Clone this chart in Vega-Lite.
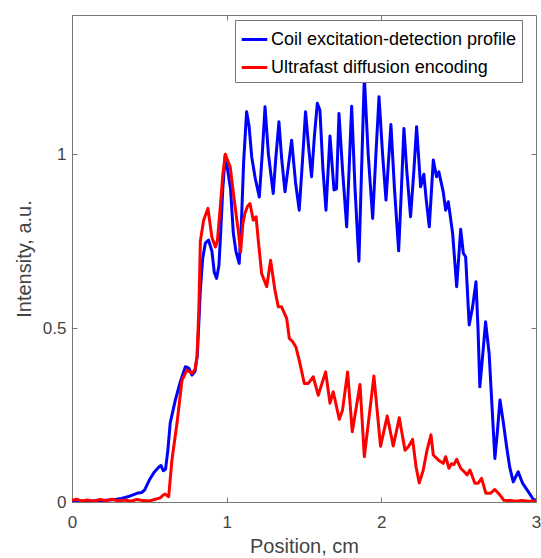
{
  "$schema": "https://vega.github.io/schema/vega-lite/v6.json",
  "width": 464,
  "height": 487,
  "autosize": "none",
  "padding": {"left": 72, "top": 15, "right": 5, "bottom": 56},
  "background": "white",
  "config": {
    "font": "Liberation Sans",
    "view": {"stroke": "#777", "strokeWidth": 1},
    "axis": {
      "grid": false,
      "domainColor": "#777",
      "tickColor": "#777",
      "labelColor": "#444",
      "titleColor": "#444",
      "labelFont": "Liberation Sans",
      "titleFont": "Liberation Sans",
      "labelFontSize": 17,
      "titleFontSize": 20,
      "titleFontWeight": "normal",
      "labelFlush": false,
      "tickSize": -5
    }
  },
  "datasets": {
    "curves": [
      {"pos": 0.00, "val": 0.002, "series": "Coil excitation-detection profile"},
      {"pos": 0.10, "val": 0.002, "series": "Coil excitation-detection profile"},
      {"pos": 0.20, "val": 0.004, "series": "Coil excitation-detection profile"},
      {"pos": 0.28, "val": 0.007, "series": "Coil excitation-detection profile"},
      {"pos": 0.32, "val": 0.010, "series": "Coil excitation-detection profile"},
      {"pos": 0.36, "val": 0.015, "series": "Coil excitation-detection profile"},
      {"pos": 0.39, "val": 0.020, "series": "Coil excitation-detection profile"},
      {"pos": 0.42, "val": 0.025, "series": "Coil excitation-detection profile"},
      {"pos": 0.45, "val": 0.027, "series": "Coil excitation-detection profile"},
      {"pos": 0.47, "val": 0.035, "series": "Coil excitation-detection profile"},
      {"pos": 0.50, "val": 0.063, "series": "Coil excitation-detection profile"},
      {"pos": 0.53, "val": 0.085, "series": "Coil excitation-detection profile"},
      {"pos": 0.56, "val": 0.100, "series": "Coil excitation-detection profile"},
      {"pos": 0.575, "val": 0.105, "series": "Coil excitation-detection profile"},
      {"pos": 0.59, "val": 0.090, "series": "Coil excitation-detection profile"},
      {"pos": 0.605, "val": 0.095, "series": "Coil excitation-detection profile"},
      {"pos": 0.62, "val": 0.150, "series": "Coil excitation-detection profile"},
      {"pos": 0.635, "val": 0.227, "series": "Coil excitation-detection profile"},
      {"pos": 0.668, "val": 0.293, "series": "Coil excitation-detection profile"},
      {"pos": 0.70, "val": 0.345, "series": "Coil excitation-detection profile"},
      {"pos": 0.733, "val": 0.389, "series": "Coil excitation-detection profile"},
      {"pos": 0.755, "val": 0.385, "series": "Coil excitation-detection profile"},
      {"pos": 0.776, "val": 0.365, "series": "Coil excitation-detection profile"},
      {"pos": 0.795, "val": 0.375, "series": "Coil excitation-detection profile"},
      {"pos": 0.81, "val": 0.42, "series": "Coil excitation-detection profile"},
      {"pos": 0.83, "val": 0.61, "series": "Coil excitation-detection profile"},
      {"pos": 0.845, "val": 0.70, "series": "Coil excitation-detection profile"},
      {"pos": 0.862, "val": 0.744, "series": "Coil excitation-detection profile"},
      {"pos": 0.883, "val": 0.753, "series": "Coil excitation-detection profile"},
      {"pos": 0.905, "val": 0.72, "series": "Coil excitation-detection profile"},
      {"pos": 0.92, "val": 0.66, "series": "Coil excitation-detection profile"},
      {"pos": 0.935, "val": 0.643, "series": "Coil excitation-detection profile"},
      {"pos": 0.95, "val": 0.68, "series": "Coil excitation-detection profile"},
      {"pos": 0.962, "val": 0.78, "series": "Coil excitation-detection profile"},
      {"pos": 0.975, "val": 0.90, "series": "Coil excitation-detection profile"},
      {"pos": 0.991, "val": 0.997, "series": "Coil excitation-detection profile"},
      {"pos": 1.008, "val": 0.95, "series": "Coil excitation-detection profile"},
      {"pos": 1.025, "val": 0.90, "series": "Coil excitation-detection profile"},
      {"pos": 1.043, "val": 0.773, "series": "Coil excitation-detection profile"},
      {"pos": 1.06, "val": 0.72, "series": "Coil excitation-detection profile"},
      {"pos": 1.081, "val": 0.686, "series": "Coil excitation-detection profile"},
      {"pos": 1.095, "val": 0.80, "series": "Coil excitation-detection profile"},
      {"pos": 1.11, "val": 0.98, "series": "Coil excitation-detection profile"},
      {"pos": 1.129, "val": 1.122, "series": "Coil excitation-detection profile"},
      {"pos": 1.145, "val": 1.08, "series": "Coil excitation-detection profile"},
      {"pos": 1.162, "val": 0.992, "series": "Coil excitation-detection profile"},
      {"pos": 1.185, "val": 0.93, "series": "Coil excitation-detection profile"},
      {"pos": 1.211, "val": 0.877, "series": "Coil excitation-detection profile"},
      {"pos": 1.23, "val": 1.00, "series": "Coil excitation-detection profile"},
      {"pos": 1.248, "val": 1.136, "series": "Coil excitation-detection profile"},
      {"pos": 1.27, "val": 1.00, "series": "Coil excitation-detection profile"},
      {"pos": 1.301, "val": 0.887, "series": "Coil excitation-detection profile"},
      {"pos": 1.318, "val": 0.99, "series": "Coil excitation-detection profile"},
      {"pos": 1.338, "val": 1.093, "series": "Coil excitation-detection profile"},
      {"pos": 1.355, "val": 0.99, "series": "Coil excitation-detection profile"},
      {"pos": 1.377, "val": 0.892, "series": "Coil excitation-detection profile"},
      {"pos": 1.40, "val": 0.97, "series": "Coil excitation-detection profile"},
      {"pos": 1.42, "val": 1.04, "series": "Coil excitation-detection profile"},
      {"pos": 1.445, "val": 0.92, "series": "Coil excitation-detection profile"},
      {"pos": 1.469, "val": 0.839, "series": "Coil excitation-detection profile"},
      {"pos": 1.49, "val": 0.98, "series": "Coil excitation-detection profile"},
      {"pos": 1.51, "val": 1.122, "series": "Coil excitation-detection profile"},
      {"pos": 1.53, "val": 1.02, "series": "Coil excitation-detection profile"},
      {"pos": 1.549, "val": 0.935, "series": "Coil excitation-detection profile"},
      {"pos": 1.567, "val": 1.05, "series": "Coil excitation-detection profile"},
      {"pos": 1.586, "val": 1.146, "series": "Coil excitation-detection profile"},
      {"pos": 1.603, "val": 1.126, "series": "Coil excitation-detection profile"},
      {"pos": 1.622, "val": 0.96, "series": "Coil excitation-detection profile"},
      {"pos": 1.642, "val": 0.839, "series": "Coil excitation-detection profile"},
      {"pos": 1.668, "val": 1.052, "series": "Coil excitation-detection profile"},
      {"pos": 1.685, "val": 0.95, "series": "Coil excitation-detection profile"},
      {"pos": 1.694, "val": 0.897, "series": "Coil excitation-detection profile"},
      {"pos": 1.71, "val": 0.90, "series": "Coil excitation-detection profile"},
      {"pos": 1.726, "val": 1.117, "series": "Coil excitation-detection profile"},
      {"pos": 1.75, "val": 0.95, "series": "Coil excitation-detection profile"},
      {"pos": 1.776, "val": 0.791, "series": "Coil excitation-detection profile"},
      {"pos": 1.792, "val": 0.96, "series": "Coil excitation-detection profile"},
      {"pos": 1.808, "val": 1.138, "series": "Coil excitation-detection profile"},
      {"pos": 1.83, "val": 0.90, "series": "Coil excitation-detection profile"},
      {"pos": 1.855, "val": 0.692, "series": "Coil excitation-detection profile"},
      {"pos": 1.872, "val": 0.95, "series": "Coil excitation-detection profile"},
      {"pos": 1.89, "val": 1.222, "series": "Coil excitation-detection profile"},
      {"pos": 1.915, "val": 1.00, "series": "Coil excitation-detection profile"},
      {"pos": 1.944, "val": 0.815, "series": "Coil excitation-detection profile"},
      {"pos": 1.965, "val": 1.00, "series": "Coil excitation-detection profile"},
      {"pos": 1.985, "val": 1.165, "series": "Coil excitation-detection profile"},
      {"pos": 2.008, "val": 1.00, "series": "Coil excitation-detection profile"},
      {"pos": 2.03, "val": 0.868, "series": "Coil excitation-detection profile"},
      {"pos": 2.062, "val": 1.085, "series": "Coil excitation-detection profile"},
      {"pos": 2.085, "val": 0.90, "series": "Coil excitation-detection profile"},
      {"pos": 2.112, "val": 0.722, "series": "Coil excitation-detection profile"},
      {"pos": 2.13, "val": 0.90, "series": "Coil excitation-detection profile"},
      {"pos": 2.146, "val": 1.074, "series": "Coil excitation-detection profile"},
      {"pos": 2.165, "val": 0.95, "series": "Coil excitation-detection profile"},
      {"pos": 2.189, "val": 0.82, "series": "Coil excitation-detection profile"},
      {"pos": 2.21, "val": 0.95, "series": "Coil excitation-detection profile"},
      {"pos": 2.228, "val": 1.079, "series": "Coil excitation-detection profile"},
      {"pos": 2.254, "val": 0.906, "series": "Coil excitation-detection profile"},
      {"pos": 2.275, "val": 0.942, "series": "Coil excitation-detection profile"},
      {"pos": 2.29, "val": 0.87, "series": "Coil excitation-detection profile"},
      {"pos": 2.31, "val": 0.791, "series": "Coil excitation-detection profile"},
      {"pos": 2.336, "val": 0.983, "series": "Coil excitation-detection profile"},
      {"pos": 2.357, "val": 0.935, "series": "Coil excitation-detection profile"},
      {"pos": 2.372, "val": 0.949, "series": "Coil excitation-detection profile"},
      {"pos": 2.40, "val": 0.892, "series": "Coil excitation-detection profile"},
      {"pos": 2.416, "val": 0.839, "series": "Coil excitation-detection profile"},
      {"pos": 2.433, "val": 0.863, "series": "Coil excitation-detection profile"},
      {"pos": 2.461, "val": 0.772, "series": "Coil excitation-detection profile"},
      {"pos": 2.487, "val": 0.619, "series": "Coil excitation-detection profile"},
      {"pos": 2.513, "val": 0.784, "series": "Coil excitation-detection profile"},
      {"pos": 2.53, "val": 0.715, "series": "Coil excitation-detection profile"},
      {"pos": 2.545, "val": 0.705, "series": "Coil excitation-detection profile"},
      {"pos": 2.568, "val": 0.509, "series": "Coil excitation-detection profile"},
      {"pos": 2.59, "val": 0.561, "series": "Coil excitation-detection profile"},
      {"pos": 2.612, "val": 0.633, "series": "Coil excitation-detection profile"},
      {"pos": 2.625, "val": 0.50, "series": "Coil excitation-detection profile"},
      {"pos": 2.637, "val": 0.331, "series": "Coil excitation-detection profile"},
      {"pos": 2.655, "val": 0.42, "series": "Coil excitation-detection profile"},
      {"pos": 2.674, "val": 0.518, "series": "Coil excitation-detection profile"},
      {"pos": 2.697, "val": 0.427, "series": "Coil excitation-detection profile"},
      {"pos": 2.715, "val": 0.28, "series": "Coil excitation-detection profile"},
      {"pos": 2.734, "val": 0.125, "series": "Coil excitation-detection profile"},
      {"pos": 2.75, "val": 0.20, "series": "Coil excitation-detection profile"},
      {"pos": 2.767, "val": 0.293, "series": "Coil excitation-detection profile"},
      {"pos": 2.79, "val": 0.225, "series": "Coil excitation-detection profile"},
      {"pos": 2.81, "val": 0.159, "series": "Coil excitation-detection profile"},
      {"pos": 2.83, "val": 0.10, "series": "Coil excitation-detection profile"},
      {"pos": 2.853, "val": 0.058, "series": "Coil excitation-detection profile"},
      {"pos": 2.885, "val": 0.087, "series": "Coil excitation-detection profile"},
      {"pos": 2.913, "val": 0.054, "series": "Coil excitation-detection profile"},
      {"pos": 2.95, "val": 0.030, "series": "Coil excitation-detection profile"},
      {"pos": 2.982, "val": 0.008, "series": "Coil excitation-detection profile"},
      {"pos": 3.00, "val": 0.005, "series": "Coil excitation-detection profile"},
      {"pos": 0.00, "val": 0.005, "series": "Ultrafast diffusion encoding"},
      {"pos": 0.03, "val": 0.008, "series": "Ultrafast diffusion encoding"},
      {"pos": 0.06, "val": 0.003, "series": "Ultrafast diffusion encoding"},
      {"pos": 0.10, "val": 0.006, "series": "Ultrafast diffusion encoding"},
      {"pos": 0.14, "val": 0.002, "series": "Ultrafast diffusion encoding"},
      {"pos": 0.18, "val": 0.007, "series": "Ultrafast diffusion encoding"},
      {"pos": 0.22, "val": 0.004, "series": "Ultrafast diffusion encoding"},
      {"pos": 0.26, "val": 0.008, "series": "Ultrafast diffusion encoding"},
      {"pos": 0.30, "val": 0.003, "series": "Ultrafast diffusion encoding"},
      {"pos": 0.34, "val": 0.006, "series": "Ultrafast diffusion encoding"},
      {"pos": 0.38, "val": 0.002, "series": "Ultrafast diffusion encoding"},
      {"pos": 0.42, "val": 0.007, "series": "Ultrafast diffusion encoding"},
      {"pos": 0.46, "val": 0.004, "series": "Ultrafast diffusion encoding"},
      {"pos": 0.50, "val": 0.003, "series": "Ultrafast diffusion encoding"},
      {"pos": 0.54, "val": 0.008, "series": "Ultrafast diffusion encoding"},
      {"pos": 0.57, "val": 0.012, "series": "Ultrafast diffusion encoding"},
      {"pos": 0.59, "val": 0.020, "series": "Ultrafast diffusion encoding"},
      {"pos": 0.603, "val": 0.023, "series": "Ultrafast diffusion encoding"},
      {"pos": 0.615, "val": 0.018, "series": "Ultrafast diffusion encoding"},
      {"pos": 0.625, "val": 0.015, "series": "Ultrafast diffusion encoding"},
      {"pos": 0.646, "val": 0.12, "series": "Ultrafast diffusion encoding"},
      {"pos": 0.679, "val": 0.227, "series": "Ultrafast diffusion encoding"},
      {"pos": 0.711, "val": 0.35, "series": "Ultrafast diffusion encoding"},
      {"pos": 0.743, "val": 0.379, "series": "Ultrafast diffusion encoding"},
      {"pos": 0.776, "val": 0.37, "series": "Ultrafast diffusion encoding"},
      {"pos": 0.795, "val": 0.38, "series": "Ultrafast diffusion encoding"},
      {"pos": 0.808, "val": 0.418, "series": "Ultrafast diffusion encoding"},
      {"pos": 0.82, "val": 0.55, "series": "Ultrafast diffusion encoding"},
      {"pos": 0.83, "val": 0.75, "series": "Ultrafast diffusion encoding"},
      {"pos": 0.851, "val": 0.81, "series": "Ultrafast diffusion encoding"},
      {"pos": 0.879, "val": 0.844, "series": "Ultrafast diffusion encoding"},
      {"pos": 0.905, "val": 0.76, "series": "Ultrafast diffusion encoding"},
      {"pos": 0.927, "val": 0.733, "series": "Ultrafast diffusion encoding"},
      {"pos": 0.94, "val": 0.75, "series": "Ultrafast diffusion encoding"},
      {"pos": 0.959, "val": 0.85, "series": "Ultrafast diffusion encoding"},
      {"pos": 0.975, "val": 0.94, "series": "Ultrafast diffusion encoding"},
      {"pos": 0.991, "val": 1.00, "series": "Ultrafast diffusion encoding"},
      {"pos": 1.008, "val": 0.98, "series": "Ultrafast diffusion encoding"},
      {"pos": 1.023, "val": 0.963, "series": "Ultrafast diffusion encoding"},
      {"pos": 1.04, "val": 0.90, "series": "Ultrafast diffusion encoding"},
      {"pos": 1.06, "val": 0.83, "series": "Ultrafast diffusion encoding"},
      {"pos": 1.075, "val": 0.78, "series": "Ultrafast diffusion encoding"},
      {"pos": 1.09, "val": 0.719, "series": "Ultrafast diffusion encoding"},
      {"pos": 1.105, "val": 0.80, "series": "Ultrafast diffusion encoding"},
      {"pos": 1.118, "val": 0.83, "series": "Ultrafast diffusion encoding"},
      {"pos": 1.135, "val": 0.85, "series": "Ultrafast diffusion encoding"},
      {"pos": 1.151, "val": 0.858, "series": "Ultrafast diffusion encoding"},
      {"pos": 1.172, "val": 0.81, "series": "Ultrafast diffusion encoding"},
      {"pos": 1.19, "val": 0.82, "series": "Ultrafast diffusion encoding"},
      {"pos": 1.205, "val": 0.75, "series": "Ultrafast diffusion encoding"},
      {"pos": 1.226, "val": 0.657, "series": "Ultrafast diffusion encoding"},
      {"pos": 1.259, "val": 0.619, "series": "Ultrafast diffusion encoding"},
      {"pos": 1.284, "val": 0.695, "series": "Ultrafast diffusion encoding"},
      {"pos": 1.312, "val": 0.609, "series": "Ultrafast diffusion encoding"},
      {"pos": 1.334, "val": 0.561, "series": "Ultrafast diffusion encoding"},
      {"pos": 1.355, "val": 0.561, "series": "Ultrafast diffusion encoding"},
      {"pos": 1.388, "val": 0.528, "series": "Ultrafast diffusion encoding"},
      {"pos": 1.405, "val": 0.47, "series": "Ultrafast diffusion encoding"},
      {"pos": 1.427, "val": 0.461, "series": "Ultrafast diffusion encoding"},
      {"pos": 1.448, "val": 0.445, "series": "Ultrafast diffusion encoding"},
      {"pos": 1.469, "val": 0.408, "series": "Ultrafast diffusion encoding"},
      {"pos": 1.502, "val": 0.341, "series": "Ultrafast diffusion encoding"},
      {"pos": 1.528, "val": 0.341, "series": "Ultrafast diffusion encoding"},
      {"pos": 1.56, "val": 0.36, "series": "Ultrafast diffusion encoding"},
      {"pos": 1.592, "val": 0.307, "series": "Ultrafast diffusion encoding"},
      {"pos": 1.64, "val": 0.374, "series": "Ultrafast diffusion encoding"},
      {"pos": 1.668, "val": 0.284, "series": "Ultrafast diffusion encoding"},
      {"pos": 1.689, "val": 0.317, "series": "Ultrafast diffusion encoding"},
      {"pos": 1.728, "val": 0.238, "series": "Ultrafast diffusion encoding"},
      {"pos": 1.749, "val": 0.264, "series": "Ultrafast diffusion encoding"},
      {"pos": 1.782, "val": 0.374, "series": "Ultrafast diffusion encoding"},
      {"pos": 1.812, "val": 0.202, "series": "Ultrafast diffusion encoding"},
      {"pos": 1.862, "val": 0.338, "series": "Ultrafast diffusion encoding"},
      {"pos": 1.89, "val": 0.13, "series": "Ultrafast diffusion encoding"},
      {"pos": 1.952, "val": 0.362, "series": "Ultrafast diffusion encoding"},
      {"pos": 1.995, "val": 0.16, "series": "Ultrafast diffusion encoding"},
      {"pos": 2.038, "val": 0.247, "series": "Ultrafast diffusion encoding"},
      {"pos": 2.077, "val": 0.161, "series": "Ultrafast diffusion encoding"},
      {"pos": 2.116, "val": 0.242, "series": "Ultrafast diffusion encoding"},
      {"pos": 2.153, "val": 0.149, "series": "Ultrafast diffusion encoding"},
      {"pos": 2.175, "val": 0.159, "series": "Ultrafast diffusion encoding"},
      {"pos": 2.202, "val": 0.18, "series": "Ultrafast diffusion encoding"},
      {"pos": 2.225, "val": 0.10, "series": "Ultrafast diffusion encoding"},
      {"pos": 2.245, "val": 0.055, "series": "Ultrafast diffusion encoding"},
      {"pos": 2.27, "val": 0.09, "series": "Ultrafast diffusion encoding"},
      {"pos": 2.296, "val": 0.15, "series": "Ultrafast diffusion encoding"},
      {"pos": 2.321, "val": 0.193, "series": "Ultrafast diffusion encoding"},
      {"pos": 2.336, "val": 0.135, "series": "Ultrafast diffusion encoding"},
      {"pos": 2.368, "val": 0.121, "series": "Ultrafast diffusion encoding"},
      {"pos": 2.40, "val": 0.111, "series": "Ultrafast diffusion encoding"},
      {"pos": 2.416, "val": 0.13, "series": "Ultrafast diffusion encoding"},
      {"pos": 2.437, "val": 0.097, "series": "Ultrafast diffusion encoding"},
      {"pos": 2.454, "val": 0.11, "series": "Ultrafast diffusion encoding"},
      {"pos": 2.47, "val": 0.108, "series": "Ultrafast diffusion encoding"},
      {"pos": 2.487, "val": 0.123, "series": "Ultrafast diffusion encoding"},
      {"pos": 2.513, "val": 0.097, "series": "Ultrafast diffusion encoding"},
      {"pos": 2.536, "val": 0.087, "series": "Ultrafast diffusion encoding"},
      {"pos": 2.555, "val": 0.078, "series": "Ultrafast diffusion encoding"},
      {"pos": 2.573, "val": 0.092, "series": "Ultrafast diffusion encoding"},
      {"pos": 2.605, "val": 0.054, "series": "Ultrafast diffusion encoding"},
      {"pos": 2.626, "val": 0.054, "series": "Ultrafast diffusion encoding"},
      {"pos": 2.648, "val": 0.068, "series": "Ultrafast diffusion encoding"},
      {"pos": 2.676, "val": 0.025, "series": "Ultrafast diffusion encoding"},
      {"pos": 2.705, "val": 0.025, "series": "Ultrafast diffusion encoding"},
      {"pos": 2.734, "val": 0.036, "series": "Ultrafast diffusion encoding"},
      {"pos": 2.767, "val": 0.02, "series": "Ultrafast diffusion encoding"},
      {"pos": 2.792, "val": 0.005, "series": "Ultrafast diffusion encoding"},
      {"pos": 2.83, "val": 0.004, "series": "Ultrafast diffusion encoding"},
      {"pos": 2.87, "val": 0.002, "series": "Ultrafast diffusion encoding"},
      {"pos": 2.91, "val": 0.004, "series": "Ultrafast diffusion encoding"},
      {"pos": 2.95, "val": 0.002, "series": "Ultrafast diffusion encoding"},
      {"pos": 3.00, "val": 0.003, "series": "Ultrafast diffusion encoding"}
    ]
  },
  "data": {"name": "curves"},
  "layer": [
    {
      "mark": {"type": "line", "strokeWidth": 3, "strokeJoin": "round", "clip": true},
      "encoding": {
        "x": {
          "field": "pos", "type": "quantitative",
          "scale": {"domain": [0, 3], "nice": false, "zero": false},
          "axis": {"orient": "bottom", "values": [0, 1, 2, 3], "format": "d", "title": "Position, cm",
                   "labelPadding": 17, "titleX": 232, "titleY": 50, "titleBaseline": "alphabetic", "titleAlign": "center"}
        },
        "y": {
          "field": "val", "type": "quantitative",
          "scale": {"domain": [0, 1.4], "nice": false, "zero": false},
          "axis": {"orient": "left", "values": [0, 0.5, 1], "format": "~g", "title": "Intensity, a.u.",
                   "labelPadding": 11, "titleX": -48, "titleY": 243.5, "titleAngle": -90, "titleAlign": "center", "titleBaseline": "middle"}
        },
        "color": {
          "field": "series", "type": "nominal",
          "scale": {"domain": ["Coil excitation-detection profile", "Ultrafast diffusion encoding"], "range": ["#0000ff", "#ff0000"]},
          "legend": {
            "orient": "none", "legendX": 163, "legendY": 5, "title": null,
            "symbolType": "stroke", "symbolSize": 650, "symbolStrokeWidth": 3,
            "labelFontSize": 18, "labelFont": "Liberation Sans", "labelColor": "#000", "labelLimit": 500,
            "strokeColor": "#777", "fillColor": "white", "padding": 5, "rowPadding": 4, "labelOffset": 2
          }
        }
      }
    },
    {
      "mark": {"type": "line", "opacity": 0},
      "encoding": {
        "x": {"field": "pos", "type": "quantitative",
              "axis": {"orient": "top", "values": [1, 2], "labels": false, "title": null, "domain": false}},
        "y": {"field": "val", "type": "quantitative",
              "axis": {"orient": "right", "values": [0.5, 1], "labels": false, "title": null, "domain": false}}
      }
    }
  ],
  "resolve": {"axis": {"x": "independent", "y": "independent"}}
}
